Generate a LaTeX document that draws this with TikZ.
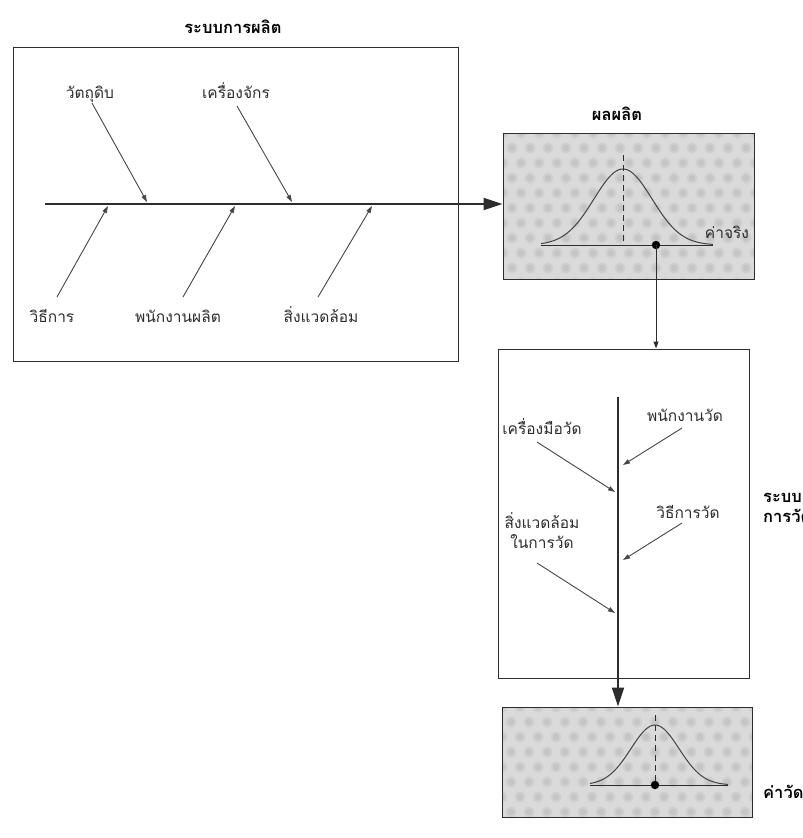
\documentclass[tikz,border=0pt]{standalone}
\usepackage{fontspec}
\newfontfamily\thai[Script=Thai]{Loma}
\usetikzlibrary{arrows.meta}
\definecolor{ink}{RGB}{45,45,45}
\definecolor{boneink}{RGB}{70,70,70}
\definecolor{boxgray}{RGB}{218,218,218}
\definecolor{spotout}{RGB}{207,207,207}
\definecolor{spotin}{RGB}{197,197,197}

% soft speckled fill of a rectangle: #1,#2 = top-left, #3,#4 = bottom-right
\newcommand\dotfield[4]{%
  \begin{scope}
    \clip (#1,#2) rectangle (#3,#4);
    \fill[boxgray] (#1,#2) rectangle (#3,#4);
    \foreach \row in {0,...,12}{
      \foreach \col in {0,...,15}{
        \pgfmathsetmacro\px{#1+\col*18+mod(\row,2)*9}
        \pgfmathsetmacro\py{#2+\row*15}
        \fill[spotout] (\px,\py) circle (5.5);
        \fill[spotin] (\px,\py) circle (3.2);
      }
    }
  \end{scope}}

\begin{document}
\begin{tikzpicture}[x=1pt,y=-1pt,
  lbl/.style={font=\thai\fontsize{15.5}{20}\selectfont, text=ink, inner sep=0pt, anchor=base},
  ttl/.style={font=\thai\bfseries\fontsize{16.5}{20}\selectfont, text=black, inner sep=0pt, anchor=base},
  frame/.style={draw=ink, line width=1pt, minimum width=#1},
  bone/.style={draw=boneink, line width=0.9pt, -{Triangle[length=7pt,width=4.5pt]}},
  spine/.style={draw=ink, line width=1.8pt, -{Triangle[length=19pt,width=12pt]}},
  thin/.style={draw=ink, line width=1pt, -{Triangle[length=7pt,width=5pt]}},
  curve/.style={draw=ink!90, line width=1pt},
  axis/.style={draw=ink, line width=1pt},
  centre/.style={draw=ink, line width=1pt, dash pattern=on 6pt off 4pt}
]
\clip (0,0) rectangle (803,838);
\fill[white] (0,0) rectangle (803,838);

% ---------- production system (fishbone) ----------
\node[ttl] (ptitle) at (233,33) {ระบบการผลิต};
\node[frame=445pt, minimum height=314pt, inner sep=0pt] (prodsys) at (235.5,204) {};

% ---------- product box ----------
\dotfield{503}{133}{754}{279}
\node[frame=251pt, minimum height=146pt, inner sep=0pt] (prod) at (628.5,206) {};
\node[ttl] (prodtitle) at (617,120) {ผลผลิต};
\draw[axis] (541,245) -- (713,245);
\draw[curve] plot[domain=541:713, samples=90] (\x,{245-76*exp(-((\x-623)/29)^2/2)});
\draw[centre] (623,155) -- (623,245);
\fill[black] (656,245) circle (4.2) coordinate (truedot);
\node[lbl] (truelbl) at (727,238) {ค่าจริง};

% main spine of the fishbone
\coordinate (fs) at (45,204);
\draw[spine] (fs) -- (fs -| prod.west);

% causes above the spine
\node[lbl] (mat) at (90,98) {วัตถุดิบ};
\node[lbl] (mach) at (236,98) {เครื่องจักร};
\coordinate (matS) at (92,103);   \coordinate (matE) at (147,202);
\coordinate (machS) at (237,106); \coordinate (machE) at (292,202);
\draw[bone] (matS) -- (matE);
\draw[bone] (machS) -- (machE);

% causes below the spine
\node[lbl] (meth) at (52,322) {วิธีการ};
\node[lbl] (op) at (178,322) {พนักงานผลิต};
\node[lbl] (env) at (321,322) {สิ่งแวดล้อม};
\coordinate (methS) at (57,297);  \coordinate (methE) at (108,206);
\coordinate (opS) at (183,297);   \coordinate (opE) at (235,206);
\coordinate (envS) at (318,297);  \coordinate (envE) at (372,206);
\draw[bone] (methS) -- (methE);
\draw[bone] (opS) -- (opE);
\draw[bone] (envS) -- (envE);

% ---------- measurement system ----------
\node[frame=251pt, minimum height=329pt, inner sep=0pt] (meas) at (623.5,513.5) {};
\draw[thin] (truedot) -- (truedot |- meas.north);

\dotfield{502}{707}{752}{817}
\node[frame=250pt, minimum height=110pt, inner sep=0pt] (final) at (627,762) {};

\coordinate (ms) at (618,397);
\draw[spine] (ms) -- (ms |- final.north);

\node[lbl] (mop) at (685,421) {พนักงานวัด};
\node[lbl] (tool) at (542,434) {เครื่องมือวัด};
\node[lbl] (mmeth) at (688,518) {วิธีการวัด};
\node[lbl, align=center] (menv) at (542,548) {สิ่งแวดล้อม\\ในการวัด};
\coordinate (mopS) at (682,428);  \coordinate (mopE) at (623,465);
\coordinate (toolS) at (537,442); \coordinate (toolE) at (615,492);
\coordinate (mmS) at (682,523);   \coordinate (mmE) at (623,560);
\coordinate (meS) at (537,563);   \coordinate (meE) at (615,613);
\draw[bone] (mopS) -- (mopE);
\draw[bone] (toolS) -- (toolE);
\draw[bone] (mmS) -- (mmE);
\draw[bone] (meS) -- (meE);

\node[ttl, anchor=base west, align=left] (mtitle) at (763,522) {ระบบ\\การวัด};

% ---------- measured value box ----------
\draw[axis] (590,785) -- (728,785);
\draw[curve] plot[domain=590:728, samples=90] (\x,{785-60*exp(-((\x-655)/24)^2/2)});
\draw[centre] (655,715) -- (655,785);
\fill[black] (655,785) circle (4.2);
\node[ttl, anchor=base west] (mval) at (763,798) {ค่าวัด};
\end{tikzpicture}
\end{document}
